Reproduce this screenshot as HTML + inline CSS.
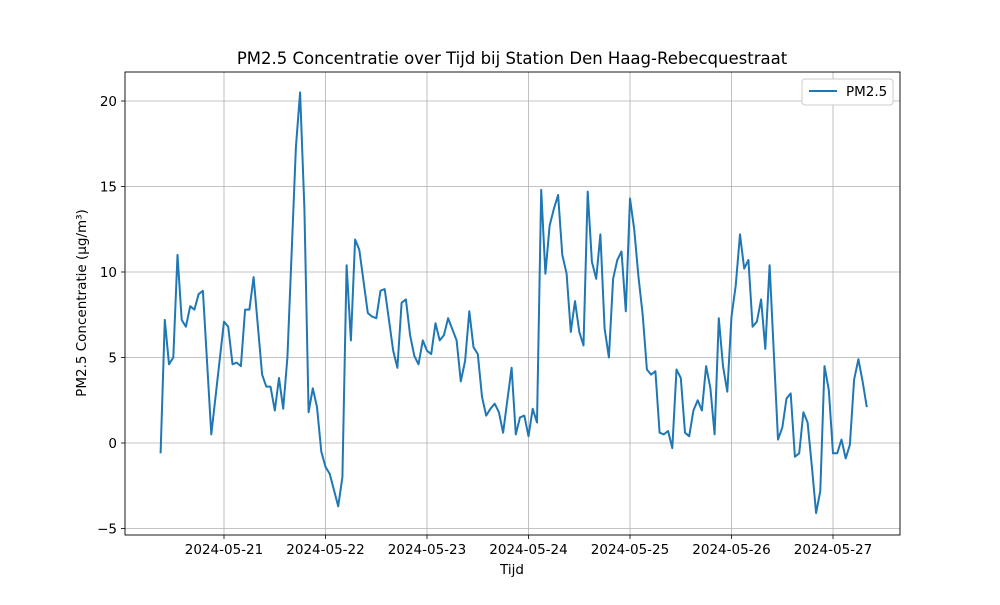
<!DOCTYPE html>
<html><head><meta charset="utf-8"><style>
body{margin:0;background:#fff}
svg text{font-family:"DejaVu Sans","Liberation Sans",sans-serif;fill:#000}
</style></head><body>
<svg width="1000" height="600" xmlns="http://www.w3.org/2000/svg">
<rect width="1000" height="600" fill="#fff"/>
<g id="grid"></g>
<g id="ticks"></g>
<path id="line" fill="none" stroke="#1f77b4" stroke-width="2" stroke-linejoin="round"/>
<rect x="125" y="72" width="775" height="463" fill="none" stroke="#000" stroke-width="0.9"/>
<text x="512" y="64" font-size="16.5" text-anchor="middle">PM2.5 Concentratie over Tijd bij Station Den Haag-Rebecquestraat</text>
<text x="512" y="574" font-size="13.5" text-anchor="middle">Tijd</text>
<text transform="translate(86,303) rotate(-90)" font-size="13.5" text-anchor="middle">PM2.5 Concentratie (µg/m³)</text>
<g>
<rect x="802" y="79" width="91" height="26" rx="3" fill="#fff" stroke="#ccc"/>
<line x1="809" y1="91" x2="837" y2="91" stroke="#1f77b4" stroke-width="2"/>
<text x="846" y="96" font-size="13.5">PM2.5</text>
</g>
</svg>
<script>
// hours since 2024-05-20 00:00
const hours=[9,10,11,12,13,14,15,16,17,18,19,21,24,25,26,27,28,29,30,31,33,34,35,36,37,38,39,41,42,43,44,45,46,47,48,49,51,52,53,54,55,56,58,59,60,61,62,64,65,66,67,68,69,70,71,72,73,74,75,76,77,79,80,81,82,83,84,85,86,87,88,89,90,92,93,94,95,96,97,98,99,100,101,102,103,104,105,106,107,108,109,110,111,112,113,114,115,116,117,118,119,120,121,122,123,124,125,126,127,128,129,130,131,132,133,134,135,136,137,138,139,140,141,142,143,144,145,146,147,148,149,150,151,152,153,155,156,157,158,159,160,161,162,163,164,165,166,167,168,169,170,171,172,173,174,175,176];
const pm25=[-0.6,7.2,4.6,5.0,11.0,7.2,6.8,8.0,7.8,8.7,8.9,0.5,7.1,6.8,4.6,4.7,4.5,7.8,7.8,9.7,4.0,3.3,3.3,1.9,3.8,2.0,5.0,17.3,20.5,13.7,1.8,3.2,2.1,-0.5,-1.4,-1.8,-3.7,-2.0,10.4,6.0,11.9,11.3,7.6,7.4,7.3,8.9,9.0,5.4,4.4,8.2,8.4,6.3,5.1,4.6,6.0,5.4,5.2,7.0,6.0,6.3,7.3,6.0,3.6,4.8,7.7,5.6,5.2,2.7,1.6,2.0,2.3,1.8,0.6,4.4,0.5,1.5,1.6,0.4,2.0,1.2,14.8,9.9,12.7,13.7,14.5,11.0,9.9,6.5,8.3,6.5,5.7,14.7,10.6,9.6,12.2,6.7,5.0,9.6,10.7,11.2,7.7,14.3,12.5,9.7,7.5,4.3,4.0,4.2,0.6,0.5,0.7,-0.3,4.3,3.8,0.6,0.4,1.9,2.5,1.9,4.5,3.2,0.5,7.3,4.5,3.0,7.4,9.2,12.2,10.2,10.7,6.8,7.1,8.4,5.5,10.4,0.2,0.9,2.6,2.9,-0.8,-0.6,1.8,1.2,-1.4,-4.1,-2.8,4.5,3.1,-0.6,-0.6,0.2,-0.9,-0.1,3.7,4.9,3.6,2.1];
const yTicks=[-5,0,5,10,15,20];
const xTickDays=[1,2,3,4,5,6,7];
const xTickLabels=["2024-05-21","2024-05-22","2024-05-23","2024-05-24","2024-05-25","2024-05-26","2024-05-27"];
const X=h=>224+(h-24)*101.5/24;
const Y=v=>443-v*17.1;
const NS="http://www.w3.org/2000/svg";
const grid=document.getElementById('grid'),ticks=document.getElementById('ticks');
function mk(tag,attrs,parent){const e=document.createElementNS(NS,tag);for(const k in attrs)e.setAttribute(k,attrs[k]);parent.appendChild(e);return e;}
yTicks.forEach(v=>{
  const y=Y(v);
  const g=mk('line',{x1:125,x2:900,y1:y,y2:y,stroke:'#b0b0b0','stroke-width':0.8},grid);
  
  
  mk('line',{x1:121,x2:125,y1:y,y2:y,stroke:'#000','stroke-width':0.8},ticks);
  const t=mk('text',{x:117,y:y+5,'font-size':13.5,'text-anchor':'end'},ticks);
  
  
  t.textContent=v<0?'\u2212'+Math.abs(v):v;
});
xTickDays.forEach((d,i)=>{
  const x=X(24+d*24-24);
  const g=mk('line',{x1:x,x2:x,y1:72,y2:535,stroke:'#b0b0b0','stroke-width':0.8},grid);
  
  
  mk('line',{x1:x,x2:x,y1:535,y2:539,stroke:'#000','stroke-width':0.8},ticks);
  const t=mk('text',{x:x,y:554,'font-size':13.5,'text-anchor':'middle'},ticks);
  
  
  t.textContent=xTickLabels[i];
});
document.getElementById('line').setAttribute('d',hours.map((h,i)=>(i?'L':'M')+X(h).toFixed(1)+','+Y(pm25[i]).toFixed(1)).join(''));
</script>
</body></html>
